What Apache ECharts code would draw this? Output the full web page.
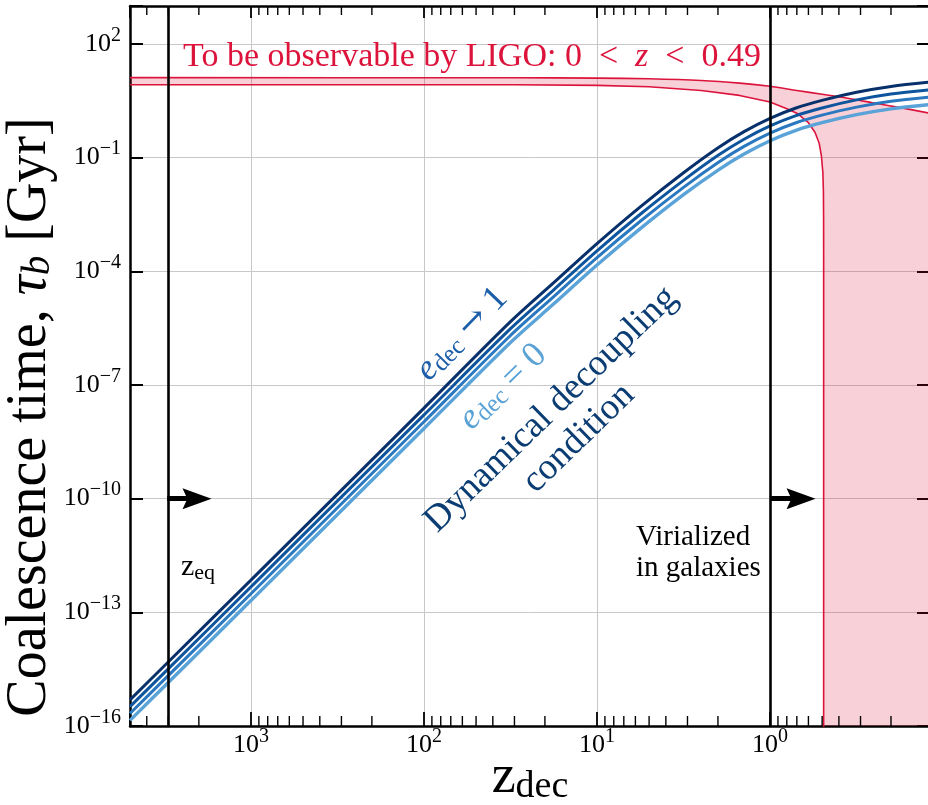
<!DOCTYPE html>
<html><head><meta charset="utf-8">
<script src="https://cdn.jsdelivr.net/npm/echarts@6/dist/echarts.min.js"></script>
<style>html,body{margin:0;padding:0;background:#fff}#c{width:928px;height:805px}</style>
</head><body><div id="c"></div>
<script>
// ---------------- data ----------------
const zDec = [5000, 3162, 1000, 316.2, 100, 31.62, 17.78, 10, 5.623, 3.162, 1.995, 1.413, 1, 0.708, 0.501, 0.316, 0.2, 0.119];
const tauEccOne = [4.90e-16, 3.89e-15, 7.08e-13, 1.32e-10, 2.45e-8, 4.68e-6, 5.01e-5, 5.37e-4, 5.01e-3, 3.98e-2, 0.182, 0.484, 1.086, 2.037, 3.236, 5.272, 7.516, 9.772];
const tauEccB   = [3.24e-16, 2.57e-15, 4.68e-13, 8.71e-11, 1.62e-8, 3.05e-6, 3.24e-5, 3.47e-4, 3.20e-3, 2.51e-2, 0.115, 0.305, 0.685, 1.285, 2.042, 3.327, 4.742, 6.166];
const tauEccC   = [2.14e-16, 1.70e-15, 3.09e-13, 5.75e-11, 1.07e-8, 2.02e-6, 2.14e-5, 2.29e-4, 2.09e-3, 1.64e-2, 7.41e-2, 0.197, 0.443, 0.830, 1.318, 2.148, 3.062, 3.981];
const tauEccZero= [1.41e-16, 1.12e-15, 2.04e-13, 3.80e-11, 7.08e-9, 1.32e-6, 1.38e-5, 1.46e-4, 1.33e-3, 1.05e-2, 4.68e-2, 0.124, 0.279, 0.524, 0.832, 1.355, 1.932, 2.512];

const zLigoUpper   = [5000, 30, 10, 5, 2.5, 1.5, 1, 0.7, 0.5, 0.35, 0.25, 0.18, 0.119];
const tauLigoUpper = [12.85, 12.76, 12.53, 12.02, 10.86, 9.23, 7.59, 5.89, 4.68, 3.63, 2.75, 2.11, 1.48];
const zLigoLower   = [5000, 30, 10, 5, 2.5, 1.5, 1.0, 0.8, 0.7, 0.6, 0.55, 0.52, 0.505, 0.495, 0.4915, 0.4903, 0.49005, 0.49];
const tauLigoLower = [8.39, 8.34, 8.05, 7.41, 5.89, 4.37, 2.92, 1.95, 1.48, 0.832, 0.468, 0.24, 0.112, 0.0398, 0.0126, 0.00251, 3.16e-4, 1e-20];

const zEq = 3050;          // matter-radiation equality line
const zVirial = 1;         // virialized-in-galaxies line
const arrowY = 1e-10;
const arrowEq = [3050, 2050];
const arrowVir = [1, 0.662];

const xRange = [0.119, 5000];
const yRange = [1e-16, 1e3];
const xTickExps = [0, 1, 2, 3];
const yTickExps = [-16, -13, -10, -7, -4, -1, 2];
const minorMultipliers = [2, 3, 4, 5, 6, 7, 8, 9];

// ---------------- helpers ----------------
const L = Math.log10;
const pts = (zs, ts) => zs.map((z, i) => [L(z), L(ts[i])]);
const X0 = L(xRange[0]), X1 = L(xRange[1]);
const Y0 = L(yRange[0]), Y1 = L(yRange[1]);
const SERIF = "'Liberation Serif', 'DejaVu Serif', serif";

const minorTicks = [];
for (let n = -1; n <= 3; n++) {
  minorMultipliers.forEach(k => {
    const v = L(k * Math.pow(10, n));
    if (v > X0 && v < X1) minorTicks.push([v]);
  });
}

const upperPts = pts(zLigoUpper, tauLigoUpper);
const lowerPts = pts(zLigoLower, tauLigoLower);
const bandPoly = upperPts.concat([[X0, Y0]])
  .concat(lowerPts.slice().reverse().map(p => [p[0], Math.max(p[1], Y0)]));

function supLabel(list) {
  return v => {
    const e = Math.round(v);
    if (Math.abs(v - e) > 1e-6 || list.indexOf(e) < 0) return '';
    return '{b|10}{s|' + (e < 0 ? '\u2212' + (-e) : e) + '}';
  };
}
const labelRich = {
  b: { fontSize: 26, fontFamily: SERIF, color: '#000' },
  s: { fontSize: 20, fontFamily: SERIF, color: '#000', padding: [0, 0, 17, 0] }
};

const axisLineStyle = { color: '#000', width: 2.5 };
const gridLine = { show: true, lineStyle: { color: '#c8c8c8', width: 1 } };
const tok = (size, color, extra) => Object.assign({ fontSize: size, fontFamily: SERIF, fill: color, color: color }, extra || {});
const ARROW = 'path://M10,0 L20,30 L10,25 L0,30 Z';

const chart = echarts.init(document.getElementById('c'), null, { renderer: 'canvas' });
chart.setOption({
  animation: false,
  backgroundColor: '#fff',
  grid: { left: 130, right: -2, top: 6, bottom: 79, containLabel: false, outerBoundsMode: 'none' },
  xAxis: [
    { type: 'value', min: X0, max: X1, inverse: true, position: 'bottom',
      axisLine: { onZero: false, lineStyle: axisLineStyle },
      axisTick: { inside: true, length: 14, lineStyle: { color: '#000', width: 1.8 } },
      axisLabel: { formatter: supLabel(xTickExps), rich: labelRich, margin: 1 },
      splitLine: gridLine },
    { type: 'value', min: X0, max: X1, inverse: true, position: 'top',
      axisLine: { onZero: false, lineStyle: axisLineStyle },
      axisTick: { inside: true, length: 12, lineStyle: { color: '#000', width: 1.8 } },
      axisLabel: { show: false }, splitLine: { show: false } }
  ],
  yAxis: [
    { type: 'value', min: Y0, max: Y1, interval: 3, position: 'left',
      axisLine: { onZero: false, lineStyle: axisLineStyle },
      axisTick: { inside: true, length: 13, lineStyle: { color: '#000', width: 2 } },
      axisLabel: { formatter: supLabel(yTickExps), rich: labelRich, margin: 9 },
      splitLine: gridLine },
    { type: 'value', min: Y0, max: Y1, interval: 3, position: 'right',
      axisLine: { onZero: false, lineStyle: axisLineStyle },
      axisTick: { inside: true, length: 13, lineStyle: { color: '#000', width: 2 } },
      axisLabel: { show: false }, splitLine: { show: false } }
  ],
  series: [
    { type: 'custom', name: 'LIGO band', z: 1, silent: true, clip: true,
      data: [[0, 0]],
      renderItem: (params, api) => ({
        type: 'polygon',
        shape: { points: bandPoly.map(p => api.coord(p)) },
        style: { fill: 'rgba(220,20,60,0.2)', stroke: null }
      }) },
    { type: 'custom', name: 'minor ticks', z: 6, silent: true, clip: false,
      data: minorTicks,
      renderItem: (params, api) => {
        const v = api.value(0);
        const b = api.coord([v, Y0]);
        const t = api.coord([v, Y1]);
        const st = { stroke: '#000', lineWidth: 1.4 };
        return { type: 'group', children: [
          { type: 'line', shape: { x1: b[0], y1: b[1], x2: b[0], y2: b[1] - 10 }, style: st },
          { type: 'line', shape: { x1: t[0], y1: t[1], x2: t[0], y2: t[1] + 9 }, style: st }
        ] };
      } },
    { type: 'line', name: 'upper', z: 2, data: upperPts, showSymbol: false, smooth: 0.3,
      lineStyle: { color: '#dc143c', width: 1.6 } },
    { type: 'line', name: 'lower', z: 2, data: lowerPts, showSymbol: false, smooth: false,
      lineStyle: { color: '#dc143c', width: 1.6 } },
    { type: 'line', name: 'e=0', z: 3, data: pts(zDec, tauEccZero), showSymbol: false, smooth: 0.3,
      lineStyle: { color: '#5aa3d8', width: 3.4 } },
    { type: 'line', name: 'e3', z: 3, data: pts(zDec, tauEccC), showSymbol: false, smooth: 0.3,
      lineStyle: { color: '#2a78bf', width: 3 } },
    { type: 'line', name: 'e2', z: 3, data: pts(zDec, tauEccB), showSymbol: false, smooth: 0.3,
      lineStyle: { color: '#0e559e', width: 3 } },
    { type: 'line', name: 'e->1', z: 3, data: pts(zDec, tauEccOne), showSymbol: false, smooth: 0.3,
      lineStyle: { color: '#08306b', width: 3 } },
    { type: 'line', name: 'vlines', z: 8, data: [[L(zVirial), 0]], showSymbol: false,
      lineStyle: { opacity: 0 },
      markLine: {
        silent: true, animation: false, symbol: 'none', label: { show: false },
        lineStyle: { color: '#000', width: 2.6, type: 'solid' },
        data: [ { xAxis: L(zEq) }, { xAxis: L(zVirial) } ]
      } },
    { type: 'line', name: 'arrows', z: 9, data: [[L(zVirial), 0]], showSymbol: false,
      lineStyle: { opacity: 0 },
      markLine: {
        silent: true, animation: false, symbol: ['none', ARROW], symbolSize: [21, 29],
        label: { show: false },
        lineStyle: { color: '#000', width: 5, type: 'solid' },
        data: [
          [ { coord: [L(arrowEq[0]), L(arrowY)] }, { coord: [L(arrowEq[1]), L(arrowY)] } ],
          [ { coord: [L(arrowVir[0]), L(arrowY)] }, { coord: [L(arrowVir[1]), L(arrowY)] } ]
        ]
      } }
  ],
  graphic: [
    { type: 'text', x: 30, y: 417, rotation: Math.PI / 2, z: 10,
      style: { text: '{n|Coalescence time, }{t|\u03c4}{sb|b}{n| [Gyr]}', align: 'center', verticalAlign: 'middle',
        rich: {
          n: tok(56, '#000'),
          t: tok(56, '#000', { fontStyle: 'italic' }),
          sb: tok(39, '#000', { fontStyle: 'italic', padding: [18, 0, 0, 0] })
        } } },
    { type: 'text', x: 530, y: 778, z: 10,
      style: { text: '{z|z}{d|dec}', align: 'center', verticalAlign: 'middle',
        rich: {
          z: tok(54, '#000'),
          d: tok(38, '#000', { padding: [18, 0, 0, 0] })
        } } },
    { type: 'text', x: 183, y: 57, z: 10,
      style: { text: '{n|To be observable by LIGO: 0  <  }{i|z}{n|  <  0.49}', align: 'left', verticalAlign: 'middle',
        rich: {
          n: tok(34, '#dc143c'),
          i: tok(34, '#dc143c', { fontStyle: 'italic' })
        } } },
    { type: 'text', x: 181, y: 567, z: 10,
      style: { text: '{z|z}{d|eq}', align: 'left', verticalAlign: 'middle',
        rich: {
          z: tok(30, '#000'),
          d: tok(22, '#000', { padding: [12, 0, 0, 0] })
        } } },
    { type: 'text', x: 636, y: 553, z: 10,
      style: { text: 'Virialized\nin galaxies', align: 'left', verticalAlign: 'middle',
        fontSize: 29, fontFamily: SERIF, fill: '#000', lineHeight: 31 } },
    { type: 'text', x: 462, y: 334, rotation: 0.80, z: 10,
      style: { text: '{e|e}{d|dec}{n| }{a|\u2192}{n| 1}', align: 'center', verticalAlign: 'middle',
        rich: {
          e: tok(36, '#1c5ea8', { fontStyle: 'italic' }),
          d: tok(25, '#1c5ea8', { padding: [12, 0, 0, 0] }),
          a: { fontSize: 34, fontFamily: "'DejaVu Serif'", fill: '#1c5ea8', color: '#1c5ea8' },
          n: tok(36, '#1c5ea8')
        } } },
    { type: 'text', x: 503, y: 387, rotation: 0.77, z: 10,
      style: { text: '{e|e}{d|dec}{n| = 0}', align: 'center', verticalAlign: 'middle',
        rich: {
          e: tok(36, '#5aa2d6', { fontStyle: 'italic' }),
          d: tok(25, '#5aa2d6', { padding: [12, 0, 0, 0] }),
          n: tok(36, '#5aa2d6')
        } } },
    { type: 'text', x: 565, y: 424, rotation: 0.77, z: 10,
      style: { text: 'Dynamical decoupling\ncondition', align: 'center', verticalAlign: 'middle',
        fontSize: 37, fontFamily: SERIF, fill: '#0b3d73', lineHeight: 40 } }
  ]
});
</script></body></html>
